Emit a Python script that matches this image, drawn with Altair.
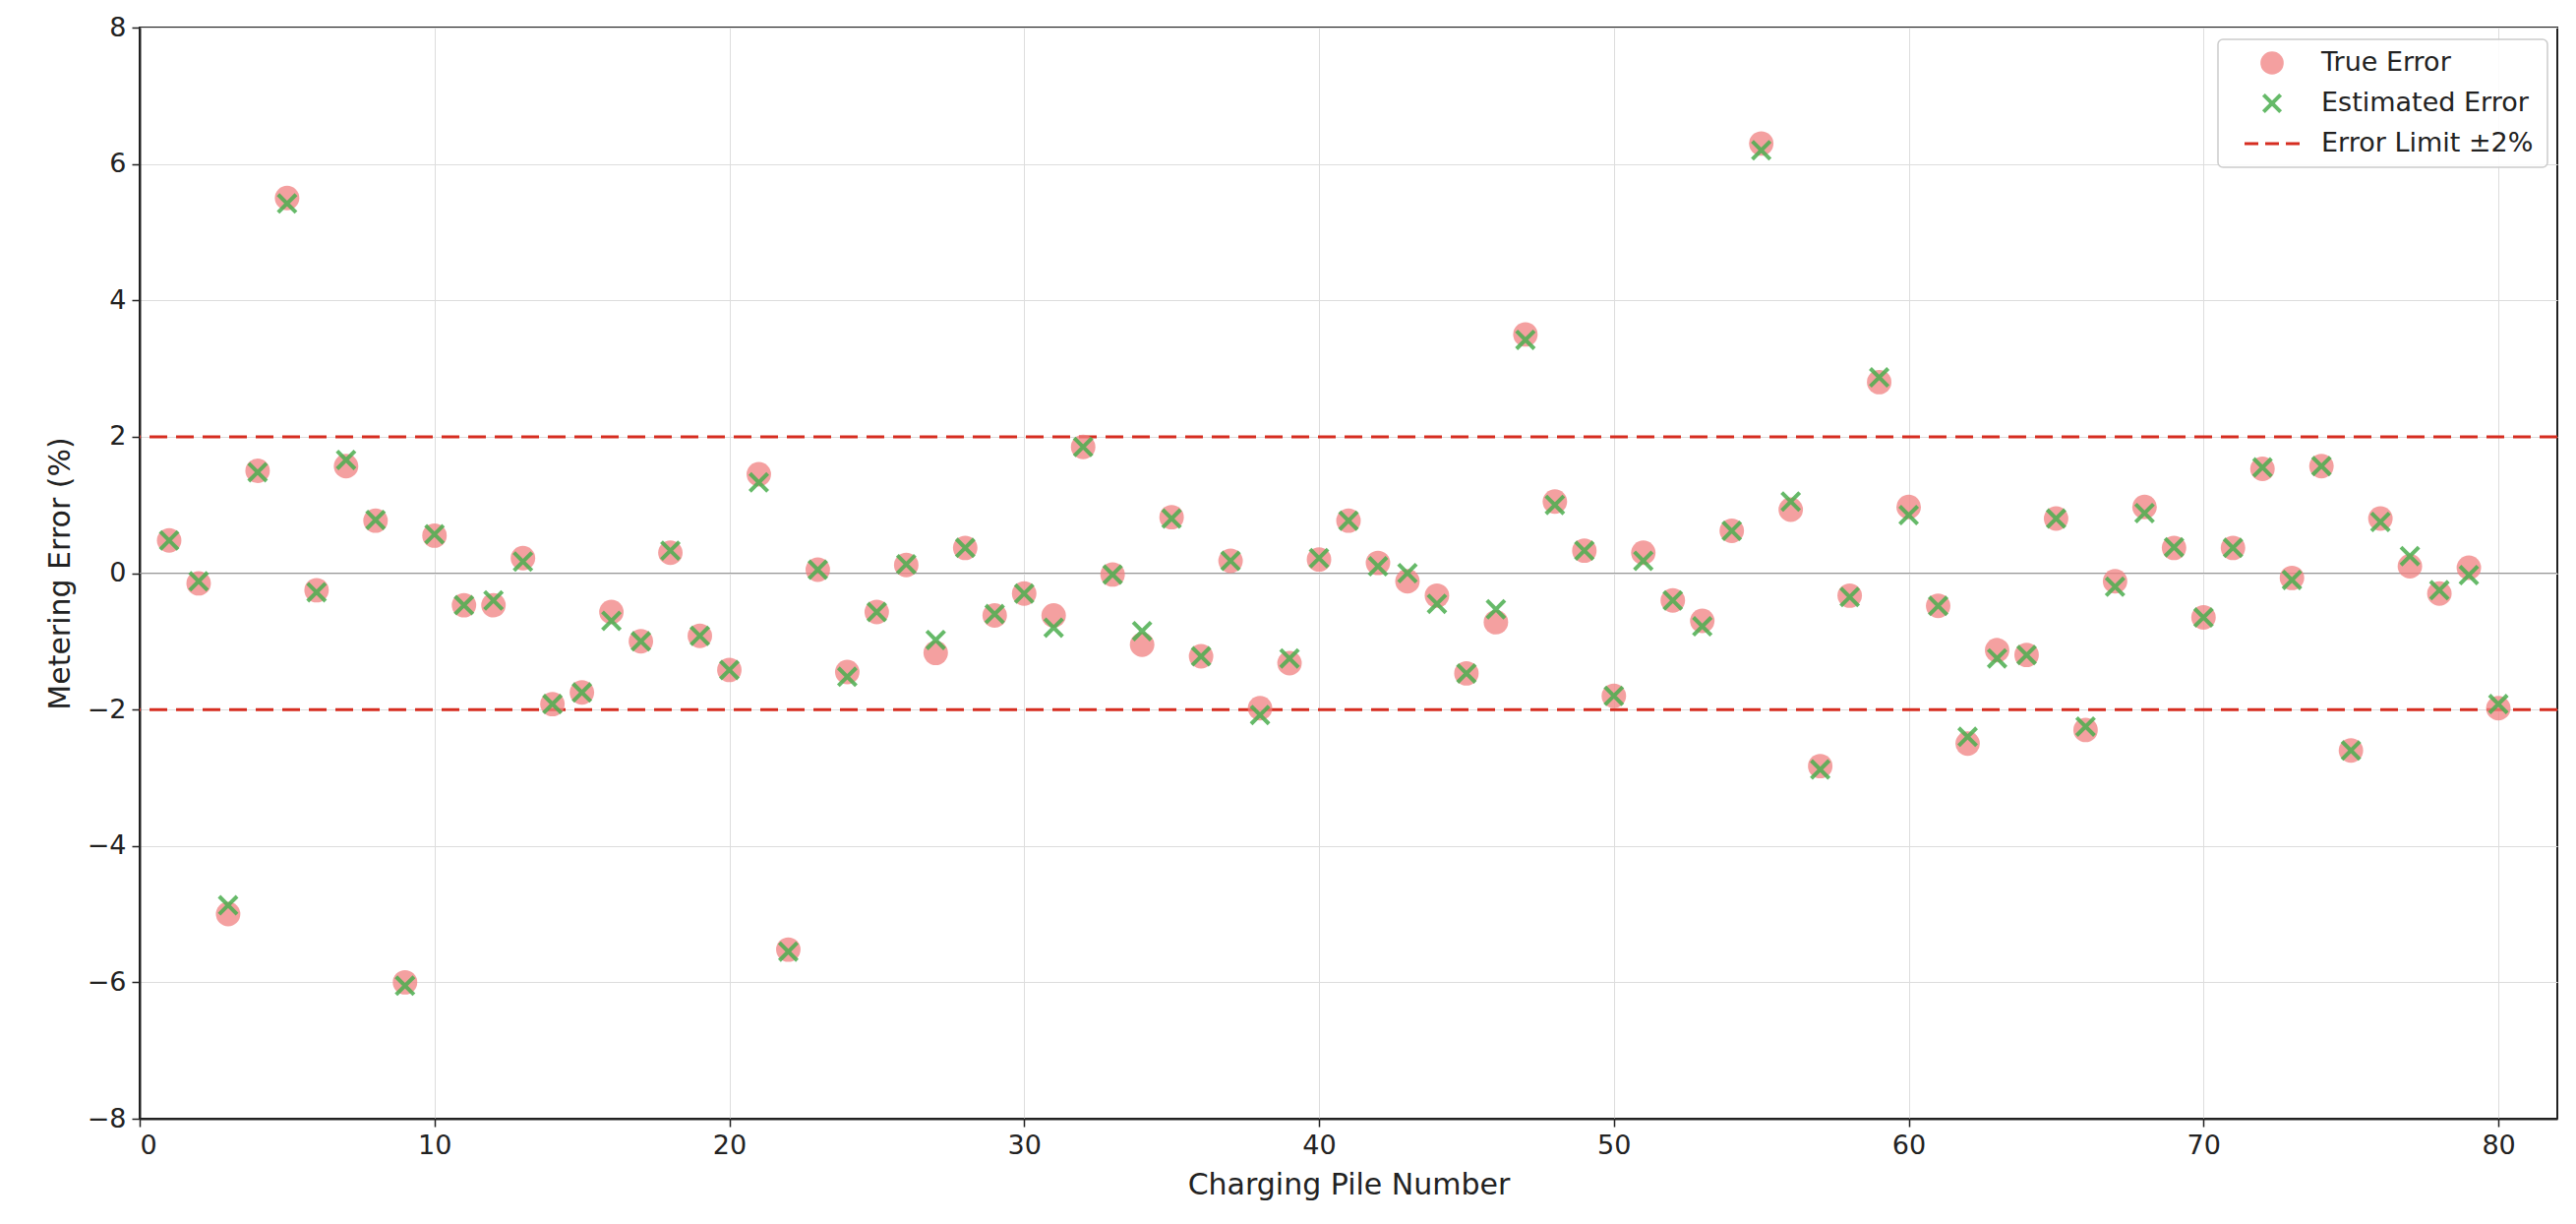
import altair as alt
import pandas as pd

piles = list(range(1, 81))
true_err = [0.48,-0.15,-5.0,1.5,5.5,-0.25,1.57,0.77,-6.0,0.55,
            -0.47,-0.47,0.22,-1.92,-1.75,-0.57,-1.0,0.3,-0.92,-1.42,
            1.45,-5.52,0.05,-1.45,-0.57,0.12,-1.17,0.37,-0.62,-0.3,
            -0.62,1.85,-0.02,-1.05,0.82,-1.22,0.18,-1.98,-1.32,0.2,
            0.77,0.15,-0.12,-0.33,-1.47,-0.72,3.5,1.05,0.33,-1.8,
            0.3,-0.4,-0.7,0.62,6.3,0.93,-2.83,-0.33,2.8,0.97,
            -0.48,-2.5,-1.13,-1.2,0.8,-2.3,-0.12,0.97,0.37,-0.65,
            0.37,1.53,-0.07,1.57,-2.6,0.8,0.1,-0.3,0.08,-1.98]
est_err = [0.48,-0.12,-4.87,1.48,5.42,-0.28,1.66,0.78,-6.05,0.57,
           -0.47,-0.4,0.17,-1.92,-1.75,-0.7,-1.0,0.33,-0.92,-1.42,
           1.33,-5.55,0.05,-1.52,-0.57,0.13,-0.98,0.37,-0.6,-0.3,
           -0.8,1.85,-0.02,-0.85,0.8,-1.22,0.18,-2.08,-1.25,0.22,
           0.77,0.1,0.0,-0.45,-1.47,-0.53,3.42,1.0,0.33,-1.8,
           0.18,-0.4,-0.78,0.62,6.2,1.05,-2.88,-0.35,2.87,0.85,
           -0.48,-2.4,-1.25,-1.2,0.8,-2.25,-0.2,0.88,0.38,-0.65,
           0.37,1.55,-0.1,1.57,-2.6,0.75,0.25,-0.25,-0.03,-1.92]
limits = [2, -2]
legend_labels = ["True Error", "Estimated Error", "Error Limit ±2%"]

RED = "#f08080"
GREEN = "#4caf50"
LIMIT = "#d62d20"
FONT = "DejaVu Sans"

df = pd.DataFrame({"pile": piles, "true": true_err, "est": est_err})
lim_df = pd.DataFrame({"y": limits})

W, H = 2458, 1109
x = alt.X("pile:Q", scale=alt.Scale(domain=[0, 82], nice=False),
          axis=alt.Axis(values=list(range(0, 81, 10)), title="Charging Pile Number"))
y_ax = alt.Axis(values=list(range(-8, 9, 2)), title="Metering Error (%)")
yscale = alt.Scale(domain=[-8, 8], nice=False)

zero = alt.Chart(pd.DataFrame({"y": [0]})).mark_rule(color="#999999", strokeWidth=1.2).encode(
    y=alt.Y("y:Q", scale=yscale, axis=y_ax))
circles = alt.Chart(df).mark_circle(color=RED, opacity=0.75, size=620).encode(
    x=x, y=alt.Y("true:Q", scale=yscale, axis=y_ax))
crosses = alt.Chart(df).mark_point(shape="M-1,-1L1,1M-1,1L1,-1", color=GREEN, opacity=0.85,
                                   size=330, strokeWidth=4, filled=False).encode(
    x=x, y=alt.Y("est:Q", scale=yscale, axis=y_ax))
rules = alt.Chart(lim_df).mark_rule(color=LIMIT, strokeDash=[18, 9], strokeWidth=3).encode(
    y=alt.Y("y:Q", scale=yscale, axis=y_ax))

# legend (inside top-right)
lx0, ly0, lw, lh = W - 345, 12, 335, 130
box = alt.Chart(pd.DataFrame({"a": [0]})).mark_rect(
    fill="white", fillOpacity=0.85, stroke="#cccccc", strokeWidth=1.5, cornerRadius=5).encode(
    x=alt.value(lx0), x2=alt.value(lx0 + lw), y=alt.value(ly0), y2=alt.value(ly0 + lh))
rows = [ly0 + 24, ly0 + 65, ly0 + 106]
sx = lx0 + 55
leg_c = alt.Chart(pd.DataFrame({"a": [0]})).mark_circle(color=RED, opacity=0.75, size=560).encode(
    x=alt.value(sx), y=alt.value(rows[0]))
leg_x = alt.Chart(pd.DataFrame({"a": [0]})).mark_point(shape="M-1,-1L1,1M-1,1L1,-1", color=GREEN,
    opacity=0.85, size=300, strokeWidth=4, filled=False).encode(x=alt.value(sx), y=alt.value(rows[1]))
leg_l = alt.Chart(pd.DataFrame({"a": [0]})).mark_rule(color=LIMIT, strokeDash=[14, 7], strokeWidth=3).encode(
    x=alt.value(sx - 28), x2=alt.value(sx + 28), y=alt.value(rows[2]))
texts = [alt.Chart(pd.DataFrame({"t": [legend_labels[i]]})).mark_text(
    align="left", baseline="middle", fontSize=27, font=FONT, color="#222222").encode(
    x=alt.value(lx0 + 105), y=alt.value(rows[i]), text="t:N") for i in range(3)]

chart = alt.layer(zero, rules, circles, crosses, box, leg_c, leg_x, leg_l, *texts).properties(
    width=W, height=H, background="white", padding={"left": 38, "top": 6, "right": 5, "bottom": 5}
).configure_axis(
    grid=True, gridColor="#dddddd", gridWidth=1, domainColor="#222222", domainWidth=2,
    tickColor="#222222", tickSize=8, tickWidth=1.5, labelFontSize=27, titleFontSize=30,
    labelFont=FONT, titleFont=FONT, labelColor="#222222", titleColor="#222222",
    titleFontWeight="normal", labelPadding=6, titlePadding=12
).configure_view(stroke="#222222", strokeWidth=2)

chart.save("out.html", embed_options={"renderer": "svg", "actions": False})
